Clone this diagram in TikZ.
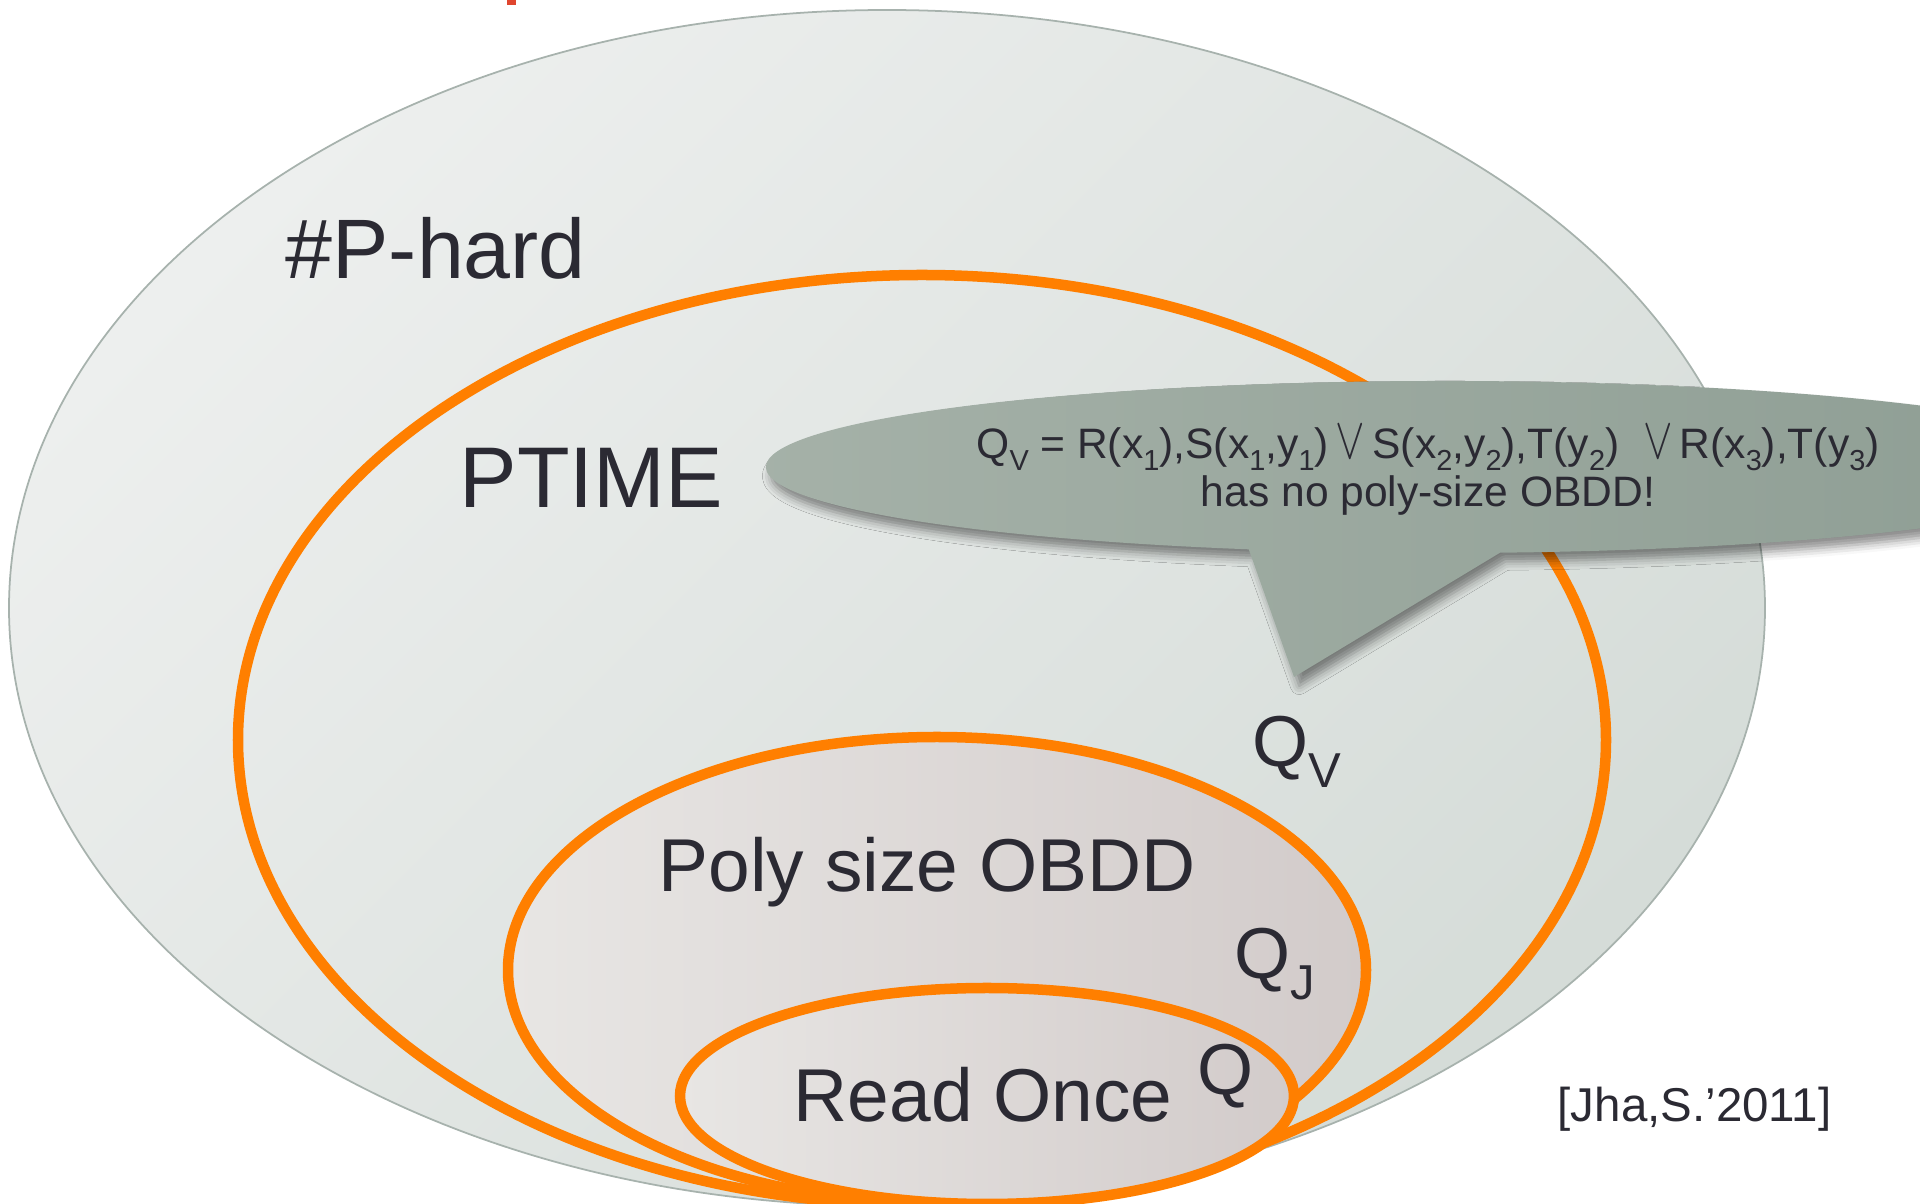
\documentclass[tikz,border=0pt]{standalone}
\usepackage{fontspec}
\setmainfont{Liberation Sans}
\usetikzlibrary{shadows.blur}

\definecolor{ink}{HTML}{2B2A33}
\definecolor{orng}{HTML}{FF7F00}
\definecolor{hardA}{HTML}{EDEFEE}
\definecolor{hardB}{HTML}{D5DCD8}
\definecolor{hardLine}{HTML}{A7B2AD}
\definecolor{obddA}{HTML}{E8E6E4}
\definecolor{obddB}{HTML}{D2CBCA}
\definecolor{callA}{HTML}{A6B2A9}
\definecolor{callB}{HTML}{8C9C92}
\definecolor{titleRed}{HTML}{E0462E}

% lowered, reduced subscript
\newcommand{\qsub}[1]{\raisebox{-0.28em}{\scalebox{0.68}{#1}}}
% tall thin disjunction sign
\newcommand{\orsign}{\scalebox{1.05}[1.4]{$\vee$}}

\begin{document}
\begin{tikzpicture}[x=0.01cm, y=-0.01cm,
  classline/.style={draw=orng, line width=1.05mm},
  lbl/.style={inner sep=0pt, text=ink, anchor=base west},
  calltext/.style={inner sep=0pt, text=ink, anchor=base,
    font=\fontsize{12.1}{14}\selectfont},
  qlabel/.style={lbl, font=\fontsize{20.5}{24}\selectfont},
]
\useasboundingbox (0,0) rectangle (1920,1204);
\clip (0,0) rectangle (1920,1204);

% clipped heading fragment at the top edge
\fill[titleRed] (507,0) rectangle (516,5);

% #P-hard region
\shade[top color=hardA, middle color=hardA, bottom color=hardB, shading angle=45,
       draw=hardLine, line width=0.5pt]
  (887,608) ellipse [x radius=878, y radius=598];

% PTIME region
\draw[classline] (922,740) ellipse [x radius=684, y radius=465];

% Poly size OBDD region
\shade[left color=obddA, middle color=obddA, right color=obddB]
  (937,970) ellipse [x radius=429, y radius=233];
\draw[classline] (937,970) ellipse [x radius=429, y radius=233];

% Read Once region
\shade[left color=obddA, middle color=obddA, right color=obddB]
  (987,1096) ellipse [x radius=307, y radius=108];
\draw[classline] (987,1096) ellipse [x radius=307, y radius=108];

% speech bubble
\path[blur shadow={shadow xshift=1.5pt, shadow yshift=-2.5pt,
                   shadow blur radius=2.5pt, shadow opacity=45},
      left color=callA, right color=callB]
  ([shift={(106.8:679 and 86)}]1445,467)
  arc[start angle=106.8, end angle=445.35, x radius=679, y radius=86]
  -- (1294,677) -- cycle;

\node[calltext] (formula) at (1428,459)
  {Q\qsub{V} = R(x\qsub{1}),S(x\qsub{1},y\qsub{1})\,\orsign\,S(x\qsub{2},y\qsub{2}),T(y\qsub{2})\ \ \orsign\,R(x\qsub{3}),T(y\qsub{3})};
\node[calltext] (nobdd) at (1428,507) {has no poly-size OBDD!};

% class labels
\node[lbl, font=\fontsize{24}{28}\selectfont] (phard) at (285,279) {\#P-hard};
\node[lbl, font=\fontsize{24.5}{29}\selectfont] (ptime) at (459,508) {PTIME};
\node[lbl, font=\fontsize{21.3}{26}\selectfont] (obdd) at (658,892) {Poly size OBDD};
\node[lbl, font=\fontsize{21.3}{26}\selectfont] (ronce) at (793,1122) {Read Once};

% example queries
\node[qlabel] (qv) at (1252,767) {Q\qsub{V}};
\node[qlabel] (qj) at (1234,979) {Q\qsub{J}};
\node[qlabel] (q) at (1197,1095) {Q};

% citation
\node[lbl, font=\fontsize{13.5}{16}\selectfont] (cite) at (1557,1122) {[Jha,S.’2011]};
\end{tikzpicture}
\end{document}
